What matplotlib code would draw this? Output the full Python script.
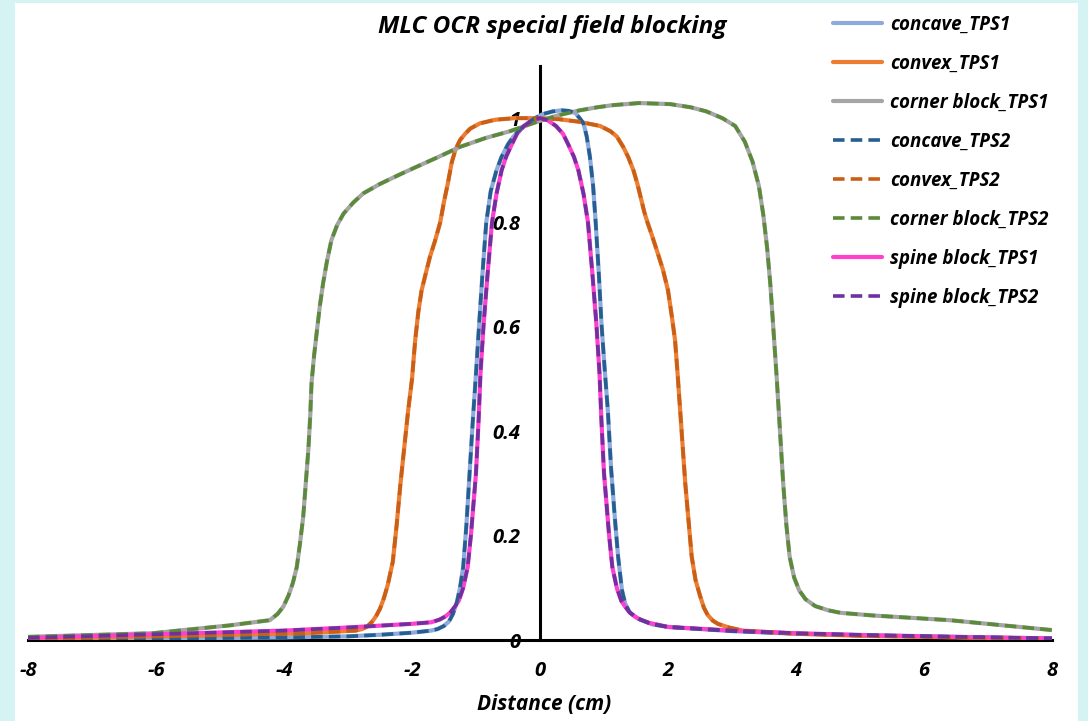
import numpy as np
import matplotlib
matplotlib.use("Agg")
import matplotlib.pyplot as plt
from matplotlib.patches import Rectangle

plt.rcParams["font.family"] = ["Open Sans", "DejaVu Sans"]
plt.rcParams["axes.unicode_minus"] = False

# off-centre ratio profiles, distance in cm
concave_x = [-8, -6, -4, -3, -2.5, -2, -1.7, -1.6, -1.5, -1.42, -1.36, -1.3, -1.25,
             -1.2, -1.15, -1.1, -1.05, -1.0, -0.95, -0.9, -0.84, -0.77, -0.68, -0.6,
             -0.5, -0.42, -0.3, -0.2, -0.08, 0.05, 0.2, 0.34, 0.45, 0.55, 0.62, 0.68,
             0.73, 0.78, 0.83, 0.87, 0.92, 0.96, 1.01, 1.06, 1.11, 1.17, 1.22, 1.28,
             1.33, 1.4, 1.53, 1.75, 2.0, 3.0, 4.0, 5.2, 6.5, 8.0]
concave_y = [0.001, 0.002, 0.005, 0.007, 0.01, 0.014, 0.018, 0.021, 0.027, 0.036,
             0.05, 0.072, 0.1, 0.14, 0.22, 0.32, 0.42, 0.511, 0.607, 0.7, 0.8, 0.86,
             0.9, 0.926, 0.95, 0.964, 0.98, 0.99, 1.0, 1.008, 1.013, 1.015, 1.014,
             1.01, 1.0, 0.99, 0.965, 0.926, 0.87, 0.8, 0.7, 0.607, 0.52, 0.44, 0.33,
             0.233, 0.16, 0.096, 0.07, 0.053, 0.041, 0.03, 0.025, 0.017, 0.012,
             0.009, 0.006, 0.003]

convex_x = [-8, -5.45, -3.66, -3.18, -2.88, -2.78, -2.7, -2.63, -2.56, -2.5, -2.44,
            -2.38, -2.3, -2.24, -2.18, -2.12, -2.06, -2.0, -1.95, -1.9, -1.85, -1.78,
            -1.72, -1.64, -1.56, -1.5, -1.44, -1.38, -1.32, -1.25, -1.17, -1.09,
            -0.94, -0.7, -0.4, 0, 0.3, 0.62, 0.94, 1.1, 1.2, 1.3, 1.38, 1.46, 1.52,
            1.58, 1.63, 1.68, 1.75, 1.83, 1.92, 2.0, 2.06, 2.11, 2.15, 2.19, 2.23,
            2.27, 2.32, 2.37, 2.43, 2.5, 2.56, 2.62, 2.7, 2.78, 2.95, 3.17, 4.0, 5.0,
            6.5, 8.0]
convex_y = [0.002, 0.008, 0.013, 0.016, 0.018, 0.021, 0.026, 0.034, 0.046, 0.06,
            0.08, 0.105, 0.15, 0.22, 0.3, 0.37, 0.44, 0.5, 0.575, 0.63, 0.67, 0.705,
            0.734, 0.765, 0.8, 0.84, 0.875, 0.915, 0.94, 0.958, 0.97, 0.98, 0.99,
            0.997, 1.0, 1.0, 0.998, 0.993, 0.985, 0.975, 0.965, 0.945, 0.925, 0.9,
            0.875, 0.845, 0.82, 0.8, 0.775, 0.745, 0.71, 0.67, 0.62, 0.575, 0.51,
            0.44, 0.37, 0.3, 0.23, 0.16, 0.115, 0.085, 0.062, 0.048, 0.037, 0.031,
            0.024, 0.018, 0.012, 0.008, 0.005, 0.002]

corner_x = [-8, -6.05, -4.85, -4.22, -4.1, -4.01, -3.93, -3.86, -3.8, -3.75, -3.7,
            -3.66, -3.62, -3.59, -3.57, -3.53, -3.49, -3.44, -3.39, -3.33, -3.26,
            -3.17, -3.07, -2.92, -2.76, -2.5, -2.21, -1.98, -1.6, -1.25, -0.85,
            -0.47, 0, 0.3, 0.62, 0.9, 1.14, 1.55, 2.03, 2.35, 2.6, 2.85, 3.05, 3.2,
            3.32, 3.42, 3.49, 3.55, 3.6, 3.65, 3.7, 3.75, 3.8, 3.85, 3.9, 3.97, 4.05,
            4.15, 4.3, 4.5, 4.7, 5.2, 6.4, 8.0]
corner_y = [0.006, 0.013, 0.028, 0.038, 0.05, 0.064, 0.085, 0.11, 0.14, 0.185, 0.236,
            0.3, 0.364, 0.43, 0.492, 0.545, 0.588, 0.64, 0.683, 0.725, 0.766, 0.795,
            0.817, 0.838, 0.856, 0.874, 0.891, 0.904, 0.925, 0.945, 0.962, 0.975,
            0.995, 1.006, 1.015, 1.021, 1.025, 1.029, 1.027, 1.021, 1.013, 1.0,
            0.985, 0.955, 0.917, 0.87, 0.814, 0.75, 0.68, 0.59, 0.5, 0.4, 0.3, 0.22,
            0.16, 0.12, 0.095, 0.078, 0.065, 0.057, 0.052, 0.047, 0.038, 0.019]

spine_x = [-8, -6, -4, -3, -2, -1.7, -1.57, -1.48, -1.4, -1.33, -1.27, -1.2, -1.13,
           -1.08, -1.04, -1.0, -0.96, -0.93, -0.88, -0.82, -0.75, -0.68, -0.6, -0.53,
           -0.44, -0.36, -0.25, -0.12, 0, 0.12, 0.25, 0.36, 0.44, 0.53, 0.6, 0.68,
           0.75, 0.82, 0.88, 0.93, 0.96, 1.0, 1.04, 1.08, 1.13, 1.2, 1.27, 1.33, 1.4,
           1.48, 1.57, 1.7, 2.0, 3.0, 4.0, 5.2, 6.5, 8.0]
spine_y = [0.004, 0.011, 0.018, 0.024, 0.031, 0.034, 0.039, 0.045, 0.053, 0.064,
           0.075, 0.1, 0.14, 0.2, 0.26, 0.32, 0.42, 0.511, 0.607, 0.7, 0.8, 0.855,
           0.9, 0.926, 0.95, 0.97, 0.985, 0.996, 1.0, 0.996, 0.985, 0.97, 0.95, 0.926,
           0.9, 0.855, 0.8, 0.7, 0.607, 0.511, 0.42, 0.32, 0.26, 0.2, 0.14, 0.1,
           0.075, 0.064, 0.053, 0.045, 0.039, 0.033, 0.025, 0.018, 0.013, 0.009,
           0.006, 0.003]

x_ticks = [-8, -6, -4, -2, 0, 2, 4, 6, 8]
y_ticks = [0, 0.2, 0.4, 0.6, 0.8, 1.0]
y_tick_labels = ["0", "0.2", "0.4", "0.6", "0.8", "1"]

W, H = 1088, 721
fig = plt.figure(figsize=(W / 100, H / 100), dpi=100, facecolor="#d5f3f3")
fig.patches.append(Rectangle((15 / W, 0), 1063 / W, 718 / H, transform=fig.transFigure,
                             facecolor="white", edgecolor="none", zorder=-1))
ax = fig.add_axes([28 / W, 81 / H, 1024 / W, 574 / H])
ax.set_facecolor("none")

solid = dict(lw=3.0, solid_capstyle="round", solid_joinstyle="round", zorder=3)
dashed = dict(lw=2.6, dashes=(3.2, 1.7), dash_joinstyle="round", zorder=4)

ax.plot(concave_x, concave_y, color="#8eaadb", label="concave_TPS1", **solid)
ax.plot(convex_x, convex_y, color="#ed7d31", label="convex_TPS1", **solid)
ax.plot(corner_x, corner_y, color="#a5a5a5", label="corner block_TPS1", **solid)
ax.plot(concave_x, concave_y, color="#255e91", label="concave_TPS2", **dashed)
ax.plot(convex_x, convex_y, color="#c95f17", label="convex_TPS2", **dashed)
ax.plot(corner_x, corner_y, color="#5a8a3a", label="corner block_TPS2", **dashed)
ax.plot(spine_x, spine_y, color="#ff40cc", label="spine block_TPS1", **solid)
ax.plot(spine_x, spine_y, color="#7030a0", label="spine block_TPS2", **dashed)

ax.set_xlim(-8, 8)
ax.set_ylim(0, 1.1)
ax.spines["left"].set_position(("data", 0))
ax.spines[["top", "right"]].set_visible(False)
for side in ["left", "bottom"]:
    ax.spines[side].set_linewidth(2.2)
    ax.spines[side].set_zorder(2.5)

ax.set_xticks(x_ticks)
ax.set_xticklabels([str(t) for t in x_ticks])
ax.set_yticks(y_ticks)
ax.set_yticklabels(y_tick_labels)
ax.tick_params(axis="x", length=0, labelsize=14.5, pad=15)
ax.tick_params(axis="y", length=0, labelsize=14.5, pad=14)
for lbl in ax.get_xticklabels() + ax.get_yticklabels():
    lbl.set_fontweight("bold")
    lbl.set_fontstyle("italic")

fig.text(552 / W, 1 - 27 / H, "MLC OCR special field blocking", ha="center", va="center",
         fontsize=17.5, fontweight="bold", fontstyle="italic")
fig.text(544 / W, 1 - 704 / H, "Distance (cm)", ha="center", va="center",
         fontsize=15, fontweight="bold", fontstyle="italic")

leg = ax.legend(loc="upper left", bbox_to_anchor=(833 / W, 1 - 15 / H),
                bbox_transform=fig.transFigure, frameon=False, borderpad=0,
                borderaxespad=0, handlelength=2.6, handletextpad=0.45,
                labelspacing=1.01, prop=dict(size=13.5, weight="bold", style="italic"))

fig.savefig("out.png", dpi=100, facecolor=fig.get_facecolor())
